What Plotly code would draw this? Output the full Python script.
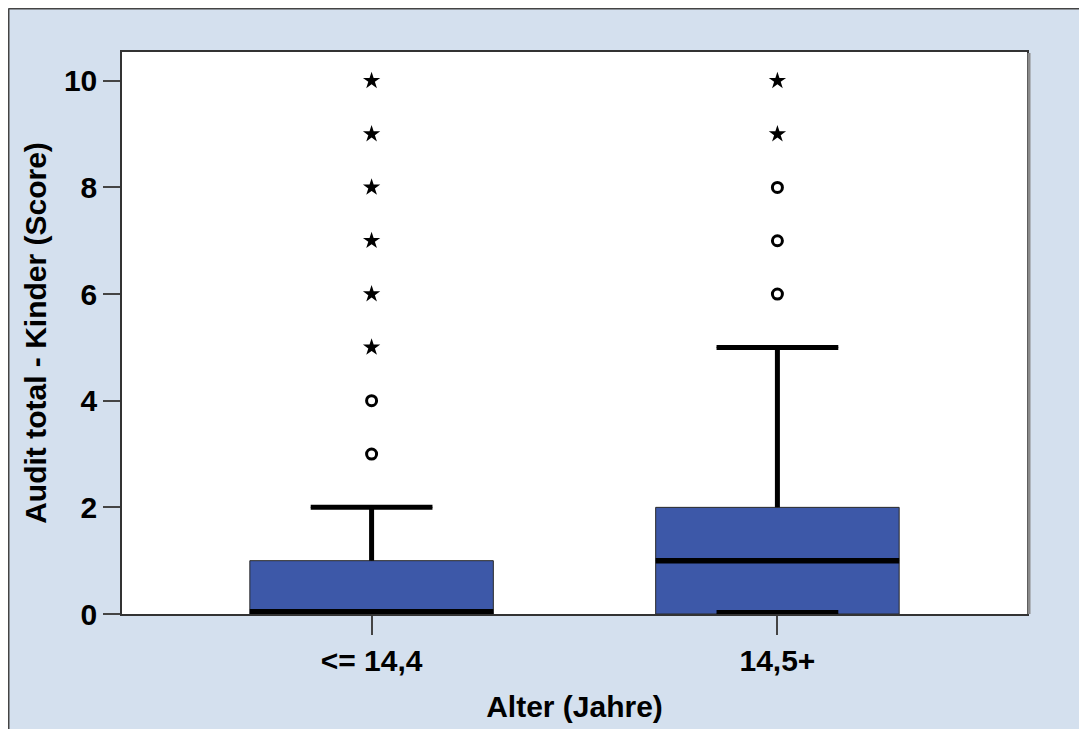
import plotly.graph_objects as go

# ---- data ----
categories = ["<= 14,4", "14,5+"]
q1 = [0, 0]
median = [0, 1]
q3 = [1, 2]
lower_whisker = [0, 0]
upper_whisker = [2, 5]
circle_outliers_g1 = [3, 4]
star_outliers_g1 = [5, 6, 7, 8, 9, 10]
circle_outliers_g2 = [6, 7, 8]
star_outliers_g2 = [9, 10]
y_ticks = [0, 2, 4, 6, 8, 10]

xpos = list(range(len(categories)))
Y_MIN, Y_MAX = 0, 10.54
BOX_W = 0.6
CAP_W = 0.5 * BOX_W
FILL = "#3D58A8"
BG = "#D4E0EE"
FONT = dict(family="Liberation Sans, Arial, sans-serif", size=30, color="black", weight="bold")

fig = go.Figure()

# boxes (thin outline)
fig.add_trace(go.Box(
    x=xpos, q1=q1, median=median, q3=q3,
    lowerfence=lower_whisker, upperfence=upper_whisker,
    width=BOX_W, whiskerwidth=0.5, fillcolor=FILL,
    line=dict(color="#2a2a2a", width=1), boxpoints=False,
    showlegend=False, hoverinfo="skip",
))

# thick whiskers / caps / medians; segments lying on the axis floor are
# drawn thicker since half of them is clipped by the plot area
seg_in = ([], [])
seg_floor = ([], [])


def add_seg(x0, x1, y0, y1):
    tgt = seg_floor if (y0 == Y_MIN and y1 == Y_MIN) else seg_in
    tgt[0].extend([x0, x1, None])
    tgt[1].extend([y0, y1, None])


for i, x in enumerate(xpos):
    add_seg(x, x, q3[i], upper_whisker[i])
    add_seg(x - CAP_W / 2, x + CAP_W / 2, upper_whisker[i], upper_whisker[i])
    if q1[i] != lower_whisker[i]:
        add_seg(x, x, q1[i], lower_whisker[i])
    add_seg(x - CAP_W / 2, x + CAP_W / 2, lower_whisker[i], lower_whisker[i])

fig.add_trace(go.Scatter(x=seg_in[0], y=seg_in[1], mode="lines",
                         line=dict(color="black", width=5),
                         showlegend=False, hoverinfo="skip"))

med_in = ([], [])
med_floor = ([], [])
for i, x in enumerate(xpos):
    tgt = med_floor if median[i] == Y_MIN else med_in
    tgt[0].extend([x - BOX_W / 2, x + BOX_W / 2, None])
    tgt[1].extend([median[i], median[i], None])

fig.add_trace(go.Scatter(x=seg_floor[0], y=seg_floor[1], mode="lines",
                         line=dict(color="black", width=8),
                         showlegend=False, hoverinfo="skip"))
fig.add_trace(go.Scatter(x=med_in[0], y=med_in[1], mode="lines",
                         line=dict(color="black", width=5.5),
                         showlegend=False, hoverinfo="skip"))
fig.add_trace(go.Scatter(x=med_floor[0], y=med_floor[1], mode="lines",
                         line=dict(color="black", width=10),
                         showlegend=False, hoverinfo="skip"))

# outliers
circ_x = [xpos[0]] * len(circle_outliers_g1) + [xpos[1]] * len(circle_outliers_g2)
circ_y = circle_outliers_g1 + circle_outliers_g2
star_x = [xpos[0]] * len(star_outliers_g1) + [xpos[1]] * len(star_outliers_g2)
star_y = star_outliers_g1 + star_outliers_g2
fig.add_trace(go.Scatter(x=circ_x, y=circ_y, mode="markers",
                         marker=dict(symbol="circle-open", size=10, color="black",
                                     line=dict(width=3, color="black")),
                         showlegend=False, hoverinfo="skip"))
fig.add_trace(go.Scatter(x=star_x, y=star_y, mode="markers",
                         marker=dict(symbol="star", size=13, color="black",
                                     line=dict(width=0)),
                         showlegend=False, hoverinfo="skip"))

# figure sits at (8, 8) of the page because of the default body margin
W, H = 1079, 721
L, R, T, B = 114, 60, 44, 115
pw, ph = W - L - R, H - T - B


def px(xp):
    return (xp - L) / pw


def py(yp):
    return (H - B - yp) / ph


fig.update_layout(
    width=W, height=H,
    margin=dict(l=L, r=R, t=T, b=B, autoexpand=False),
    paper_bgcolor=BG,
    plot_bgcolor="white",
    font=FONT,
    shapes=[
        dict(type="line", xref="paper", yref="paper", layer="above",
             x0=px(0.5), x1=px(W), y0=py(0.5), y1=py(0.5),
             line=dict(color="#444444", width=2)),
        dict(type="line", xref="paper", yref="paper", layer="above",
             x0=px(0.5), x1=px(0.5), y0=py(0.5), y1=py(H),
             line=dict(color="#444444", width=2)),
        dict(type="line", xref="paper", yref="paper", layer="above",
             x0=px(W - R + 2), x1=px(W - R + 2), y0=py(H - B), y1=py(T + 1),
             line=dict(color="#8a8a8a", width=3)),
    ],
    xaxis=dict(
        range=[-0.615, 1.615], tickmode="array", tickvals=xpos, ticktext=categories,
        showgrid=False, zeroline=False, showline=True, mirror=True,
        linecolor="#333333", linewidth=1.5,
        ticks="outside", ticklen=19, tickwidth=1.5, tickcolor="#444444",
        tickfont=FONT,
        title=dict(text="Alter (Jahre)", font=FONT, standoff=20),
    ),
    yaxis=dict(
        range=[Y_MIN, Y_MAX], tickmode="array", tickvals=y_ticks,
        showgrid=False, zeroline=False, showline=True, mirror=True,
        linecolor="#333333", linewidth=1.5,
        ticks="outside", ticklen=17, tickwidth=1.5, tickcolor="#444444",
        tickfont=FONT,
        title=dict(text="Audit total - Kinder (Score)", font=FONT, standoff=8),
    ),
)

fig.write_html("out.html")
